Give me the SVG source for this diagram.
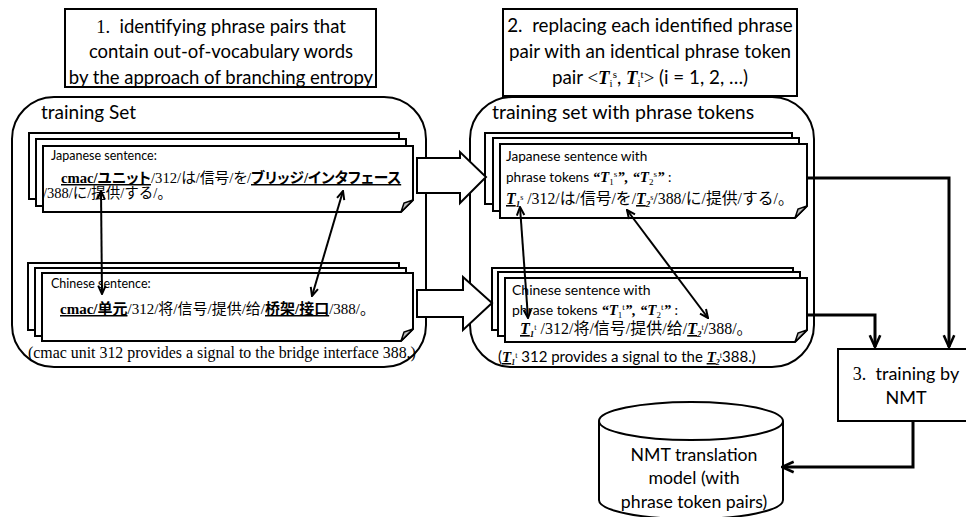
<svg xmlns="http://www.w3.org/2000/svg" width="966" height="517" viewBox="0 0 966 517">
<defs>
<style>
.bx{fill:#fff;stroke:#000;stroke-width:2}
.ct{fill:#fff;stroke:#000;stroke-width:2}
.pg{fill:#fff;stroke:#000;stroke-width:2}
.fold{fill:#bdbdbd;stroke:#000;stroke-width:1.5}
.big{fill:#fff;stroke:#000;stroke-width:2}
.s{font-family:Lato,"Open Sans","Liberation Sans",sans-serif;fill:#000}
.sr{font-family:"Liberation Serif",serif}
.jp{font-family:"Liberation Serif","Noto Sans CJK JP",serif;fill:#000}
.palt{font-feature-settings:"palt"}
.sc{font-family:"Liberation Serif","Noto Sans CJK SC",serif;fill:#000}
.tk{font-family:"Liberation Serif",serif;font-weight:bold;font-style:italic}
.u{text-decoration:underline}
.b{font-weight:bold}
.cn{fill:none;stroke:#000;stroke-width:3}
.dl{fill:none;stroke:#000;stroke-width:2}
</style>
<marker id="ah" viewBox="0 0 12 12" refX="11" refY="6" markerWidth="14" markerHeight="14" markerUnits="userSpaceOnUse" orient="auto-start-reverse">
<path d="M1,1.5 L11,6 L1,10.5" fill="none" stroke="#000" stroke-width="2.2"/>
</marker>
<marker id="ahs" viewBox="0 0 12 12" refX="11" refY="6" markerWidth="10" markerHeight="10" markerUnits="userSpaceOnUse" orient="auto-start-reverse">
<path d="M1,1.5 L11,6 L1,10.5" fill="none" stroke="#000" stroke-width="2.4"/>
</marker>
</defs>

<g id="step1">
<rect class="bx" x="65" y="9" width="311" height="78"/>
<text class="s" font-size="18.5" text-anchor="middle" x="221" y="33"><tspan class="sr">1.</tspan>&#160; identifying phrase pairs that</text>
<text class="s" font-size="18.5" text-anchor="middle" x="221" y="58">contain out-of-vocabulary words</text>
<text class="s" font-size="18.5" text-anchor="middle" x="221" y="84">by the approach of branching entropy</text>
</g>

<g id="step2">
<rect class="bx" x="503" y="9" width="294" height="87"/>
<text class="s" font-size="18.8" text-anchor="middle" x="650" y="32">2.&#160; replacing each identified phrase</text>
<text class="s" font-size="18.8" text-anchor="middle" x="650" y="58">pair with an identical phrase token</text>
<text class="s" font-size="18.8" text-anchor="middle" x="650" y="84">pair <tspan class="sr">&lt;</tspan><tspan class="tk">T</tspan><tspan class="sr" font-size="11" dy="3">i</tspan><tspan class="sr" font-size="11" dy="-9">s</tspan><tspan dy="6">, </tspan><tspan class="tk">T</tspan><tspan class="sr" font-size="11" dy="3">i</tspan><tspan class="sr" font-size="11" dy="-9">t</tspan><tspan class="sr" dy="6">&gt;</tspan> (i = 1, 2, …)</text>
</g>

<g id="training-set">
<rect class="ct" x="12" y="97" width="414" height="270" rx="42" ry="42"/>
<text class="s" font-size="19" x="41" y="119">training Set</text>
</g>

<g id="training-set-tokens">
<rect class="ct" x="470" y="97" width="344" height="270" rx="42" ry="42"/>
<text class="s" font-size="19.5" x="492" y="119">training set with phrase tokens</text>
</g>

<g id="ja-sentence">
<rect class="pg" x="29" y="133" width="370" height="66"/>
<rect class="pg" x="36" y="139" width="370" height="67"/>
<path class="pg" d="M43,146 H413 V200 L401,212 H43 Z"/>
<path class="fold" d="M413,200 L404,203 L401,212 Z"/>
<text class="s" font-size="12.5" x="51" y="160">Japanese sentence:</text>
<text class="jp palt" font-size="14.7" x="61" y="183"><tspan class="b u">cmac/ユニット</tspan>/312/は/信号/を/<tspan class="b u">ブリッジ/インタフェース</tspan></text>
<text class="jp" font-size="14.5" x="43" y="198">/388/に/提供/する/。</text>
</g>

<g id="zh-sentence">
<rect class="pg" x="28" y="263" width="371" height="67"/>
<rect class="pg" x="35" y="268" width="371" height="68"/>
<path class="pg" d="M42,273 H413 V329 L401,341 H42 Z"/>
<path class="fold" d="M413,329 L404,332 L401,341 Z"/>
<text class="s" font-size="12.5" x="51" y="288">Chinese sentence:</text>
<text class="sc" font-size="15" x="60" y="314"><tspan class="b u">cmac/单元</tspan>/312/将/信号/提供/给/<tspan class="b u">桥架/接口</tspan>/388/。</text>
<text class="sc" font-size="15.9" x="28" y="358">(cmac unit 312 provides a signal to the bridge interface 388.)</text>
</g>

<g id="ja-tokens">
<rect class="pg" x="485" y="133" width="307" height="71"/>
<rect class="pg" x="493" y="138" width="306" height="73"/>
<path class="pg" d="M500,144 H807 V206 L795,218 H500 Z"/>
<path class="fold" d="M807,206 L798,209 L795,218 Z"/>
<text class="s" font-size="13.6" x="506" y="161">Japanese sentence with</text>
<text class="s" font-size="13.6" x="506" y="182">phrase tokens <tspan class="tk" font-size="15">“T</tspan><tspan class="sr" font-size="9" dy="3">1</tspan><tspan class="sr" font-size="9" dy="-8">s</tspan><tspan class="tk" font-size="15" dy="5">”, “T</tspan><tspan class="sr" font-size="9" dy="3">2</tspan><tspan class="sr" font-size="9" dy="-8">s</tspan><tspan class="tk" font-size="15" dy="5">”</tspan> :</text>
<text class="jp" font-size="15.8" x="506" y="204"><tspan class="tk u">T</tspan><tspan class="tk" font-size="9" dy="3">1</tspan><tspan class="sr" font-size="8" dy="-7">s</tspan><tspan dy="4"> /312/は/信号/を/</tspan><tspan class="tk u">T</tspan><tspan class="tk" font-size="9" dy="3">2</tspan><tspan class="sr" font-size="8" dy="-7">s</tspan><tspan dy="4">/388/に/提供/する/。</tspan></text>
</g>

<g id="zh-tokens">
<rect class="pg" x="492" y="268" width="301" height="62"/>
<rect class="pg" x="498" y="272" width="302" height="64"/>
<path class="pg" d="M505,278 H807 V330 L795,342 H505 Z"/>
<path class="fold" d="M807,330 L798,333 L795,342 Z"/>
<text class="s" font-size="14" x="512" y="295">Chinese sentence with</text>
<text class="s" font-size="14" x="512" y="315">phrase tokens <tspan class="tk" font-size="15">“T</tspan><tspan class="sr" font-size="9" dy="3">1</tspan><tspan class="sr" font-size="9" dy="-8">t</tspan><tspan class="tk" font-size="15" dy="5">”, “T</tspan><tspan class="sr" font-size="9" dy="3">2</tspan><tspan class="sr" font-size="9" dy="-8">t</tspan><tspan class="tk" font-size="15" dy="5">”</tspan> :</text>
<text class="sc" font-size="16" x="520" y="334"><tspan class="tk u">T</tspan><tspan class="tk" font-size="9" dy="3">1</tspan><tspan class="sr" font-size="8" dy="-7">t</tspan><tspan dy="4"> /312/将/信号/提供/给/</tspan><tspan class="tk u">T</tspan><tspan class="tk" font-size="9" dy="3">2</tspan><tspan class="sr" font-size="8" dy="-7">t</tspan><tspan dy="4">/388/。</tspan></text>
<text class="s" font-size="15" x="498" y="362">(<tspan class="tk u">T</tspan><tspan class="tk" font-size="8" dy="3">1</tspan><tspan class="sr" font-size="8" dy="-7">t</tspan><tspan dy="4"> 312 provides a signal to the </tspan><tspan class="tk u">T</tspan><tspan class="tk" font-size="8" dy="3">2</tspan><tspan class="sr" font-size="8" dy="-7">t</tspan><tspan dy="4">388.)</tspan></text>
</g>

<g id="step3">
<rect class="bx" x="838" y="349" width="140" height="72"/>
<text class="s" font-size="18" text-anchor="middle" x="906" y="380"><tspan class="sr">3.</tspan>&#160; training by</text>
<text class="s" font-size="18" text-anchor="middle" x="906" y="404">NMT</text>
</g>

<g id="nmt-model">
<path class="bx" d="M599,421 V500 A92,19 0 0 0 783,500 V421"/>
<ellipse class="bx" cx="691" cy="421" rx="92" ry="19"/>
<text class="s" font-size="17.7" text-anchor="middle" x="694" y="461">NMT translation</text>
<text class="s" font-size="17.7" text-anchor="middle" x="694" y="484">model (with</text>
<text class="s" font-size="17.7" text-anchor="middle" x="694" y="508">phrase token pairs)</text>
</g>

<g id="connectors">
<polygon class="big" points="417,158 460,158 460,152 486,177 460,203 460,193 417,193"/>
<polygon class="big" points="417,290 463,290 463,277 492,303 463,330 463,317 417,317"/>
<line class="dl" x1="101" y1="191" x2="102" y2="294" marker-start="url(#ahs)" marker-end="url(#ahs)"/>
<line class="dl" x1="343" y1="191" x2="312" y2="296" marker-start="url(#ahs)" marker-end="url(#ahs)"/>
<line class="dl" x1="520" y1="207" x2="528" y2="318" marker-start="url(#ahs)" marker-end="url(#ahs)"/>
<line class="dl" x1="627" y1="210" x2="708" y2="318" marker-start="url(#ahs)" marker-end="url(#ahs)"/>
<path class="cn" d="M807,178 H949 V347" marker-end="url(#ah)"/>
<path class="cn" d="M807,315 H875 V347" marker-end="url(#ah)"/>
<path class="cn" d="M913,421 V467 H782" marker-end="url(#ah)"/>
</g>
</svg>
